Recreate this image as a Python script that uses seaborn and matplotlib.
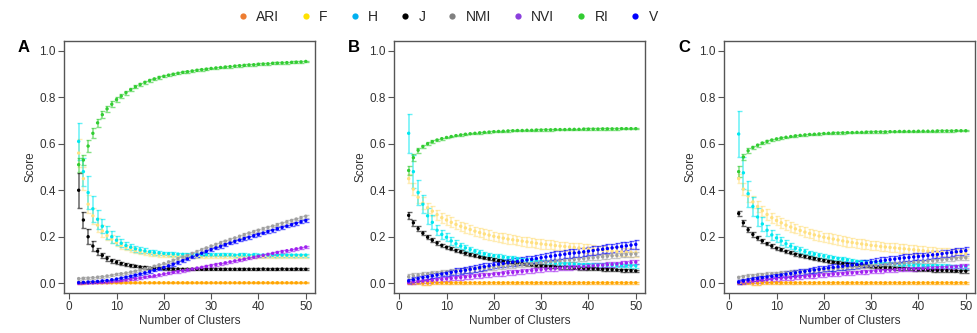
import numpy as np
import pandas as pd
import matplotlib
matplotlib.use("Agg")
import matplotlib.pyplot as plt
from matplotlib.lines import Line2D
import seaborn as sns

# ---------------- data ----------------
clusters = list(range(2, 51))
metrics = ["ARI", "F", "H", "J", "NMI", "NVI", "RI", "V"]
panel_labels = ["A", "B", "C"]

# ---- Panel A ----
A_ARI = [0.001,0.001,0.002,0.002,0.002,0.002,0.002,0.002,0.002,0.002,
         0.002,0.002,0.002,0.002,0.002,0.002,0.002,0.002,0.002,0.002,
         0.002,0.002,0.002,0.002,0.002,0.002,0.002,0.002,0.002,0.002,
         0.002,0.002,0.002,0.002,0.002,0.002,0.002,0.002,0.002,0.002,
         0.002,0.002,0.002,0.002,0.002,0.002,0.002,0.002,0.002]
A_ARI_err = [0.003,0.003,0.003,0.003,0.003,0.003,0.003,0.003,0.003,0.003,
             0.003,0.003,0.003,0.003,0.003,0.003,0.003,0.003,0.003,0.003,
             0.003,0.003,0.003,0.003,0.003,0.003,0.003,0.003,0.003,0.003,
             0.003,0.003,0.003,0.003,0.003,0.003,0.003,0.003,0.003,0.003,
             0.003,0.003,0.003,0.003,0.003,0.003,0.003,0.003,0.003]
A_F = [0.56,0.45,0.34,0.29,0.25,0.225,0.205,0.19,0.175,0.163,
       0.154,0.146,0.14,0.135,0.131,0.127,0.124,0.122,0.12,0.119,
       0.118,0.117,0.117,0.116,0.116,0.116,0.116,0.116,0.116,0.116,
       0.116,0.116,0.116,0.116,0.115,0.115,0.115,0.115,0.115,0.115,
       0.115,0.115,0.115,0.115,0.115,0.115,0.115,0.115,0.115]
A_F_err = [0.06,0.05,0.04,0.035,0.03,0.025,0.02,0.018,0.016,0.014,
           0.012,0.011,0.01,0.009,0.008,0.008,0.008,0.007,0.007,0.007,
           0.007,0.006,0.006,0.006,0.006,0.006,0.006,0.006,0.006,0.006,
           0.006,0.006,0.006,0.006,0.005,0.005,0.005,0.005,0.005,0.005,
           0.005,0.005,0.005,0.005,0.005,0.005,0.005,0.005,0.005]
A_H = [0.61,0.48,0.39,0.32,0.275,0.245,0.22,0.2,0.185,0.172,
       0.162,0.155,0.148,0.143,0.139,0.135,0.132,0.13,0.128,0.127,
       0.126,0.125,0.124,0.123,0.123,0.122,0.122,0.122,0.122,0.122,
       0.122,0.122,0.122,0.121,0.122,0.122,0.121,0.122,0.121,0.121,
       0.121,0.121,0.121,0.121,0.121,0.121,0.121,0.121,0.121]
A_H_err = [0.08,0.06,0.07,0.055,0.04,0.03,0.028,0.025,0.02,0.018,
           0.016,0.014,0.013,0.012,0.011,0.01,0.009,0.009,0.008,0.008,
           0.008,0.007,0.007,0.007,0.007,0.007,0.006,0.006,0.006,0.006,
           0.006,0.006,0.006,0.006,0.006,0.006,0.006,0.006,0.006,0.006,
           0.006,0.006,0.006,0.006,0.006,0.006,0.006,0.006,0.006]
A_J = [0.4,0.272,0.2,0.16,0.138,0.12,0.107,0.097,0.09,0.085,
       0.08,0.076,0.073,0.07,0.068,0.066,0.065,0.064,0.063,0.062,
       0.061,0.061,0.06,0.06,0.06,0.06,0.06,0.06,0.06,0.06,
       0.06,0.06,0.06,0.06,0.06,0.06,0.06,0.06,0.06,0.061,
       0.06,0.06,0.06,0.061,0.06,0.06,0.061,0.06,0.06]
A_J_err = [0.075,0.035,0.033,0.02,0.015,0.012,0.01,0.009,0.008,0.007,
           0.006,0.006,0.005,0.005,0.005,0.005,0.004,0.004,0.004,0.004,
           0.004,0.004,0.004,0.004,0.004,0.004,0.004,0.004,0.004,0.004,
           0.004,0.004,0.004,0.004,0.004,0.004,0.004,0.004,0.004,0.004,
           0.004,0.004,0.004,0.004,0.004,0.004,0.004,0.004,0.004]
A_NMI = [0.02,0.021,0.022,0.024,0.026,0.028,0.031,0.034,0.038,0.041,
         0.044,0.048,0.052,0.057,0.062,0.067,0.073,0.079,0.085,0.092,
         0.099,0.106,0.113,0.12,0.128,0.136,0.144,0.152,0.16,0.167,
         0.174,0.181,0.188,0.195,0.202,0.209,0.216,0.222,0.228,0.234,
         0.24,0.246,0.252,0.258,0.264,0.27,0.276,0.282,0.288]
A_NMI_err = [0.004,0.004,0.004,0.004,0.004,0.004,0.004,0.004,0.004,0.004,
             0.004,0.004,0.004,0.004,0.004,0.004,0.004,0.004,0.004,0.004,
             0.006,0.006,0.006,0.006,0.006,0.006,0.006,0.006,0.006,0.006,
             0.006,0.006,0.006,0.006,0.006,0.006,0.006,0.006,0.006,0.006,
             0.006,0.006,0.006,0.006,0.006,0.006,0.006,0.006,0.006]
A_NVI = [0.0,0.001,0.001,0.002,0.003,0.004,0.005,0.007,0.009,0.011,
         0.014,0.017,0.02,0.023,0.026,0.029,0.032,0.036,0.04,0.043,
         0.047,0.05,0.054,0.058,0.061,0.065,0.068,0.072,0.076,0.08,
         0.084,0.088,0.092,0.096,0.1,0.104,0.108,0.112,0.116,0.12,
         0.124,0.128,0.132,0.136,0.14,0.144,0.148,0.152,0.156]
A_NVI_err = [0.002,0.002,0.002,0.002,0.002,0.002,0.002,0.002,0.002,0.002,
             0.004,0.004,0.004,0.004,0.004,0.004,0.004,0.004,0.004,0.004,
             0.005,0.005,0.005,0.005,0.005,0.005,0.005,0.005,0.005,0.005,
             0.005,0.005,0.005,0.005,0.005,0.005,0.005,0.005,0.005,0.005,
             0.005,0.005,0.005,0.005,0.005,0.005,0.005,0.005,0.005]
A_RI = [0.51,0.53,0.59,0.645,0.69,0.725,0.75,0.77,0.79,0.805,
        0.82,0.833,0.845,0.855,0.864,0.872,0.879,0.885,0.89,0.895,
        0.899,0.903,0.907,0.91,0.913,0.916,0.919,0.921,0.924,0.926,
        0.928,0.93,0.932,0.934,0.936,0.937,0.939,0.94,0.942,0.943,
        0.944,0.946,0.947,0.948,0.949,0.95,0.951,0.952,0.954]
A_RI_err = [0.03,0.02,0.025,0.022,0.018,0.015,0.013,0.012,0.011,0.01,
            0.009,0.008,0.007,0.007,0.006,0.006,0.005,0.005,0.005,0.004,
            0.004,0.004,0.004,0.004,0.004,0.004,0.004,0.004,0.004,0.004,
            0.004,0.004,0.004,0.004,0.004,0.004,0.004,0.004,0.004,0.004,
            0.004,0.004,0.004,0.004,0.004,0.004,0.004,0.004,0.004]
A_V = [0.003,0.004,0.005,0.006,0.008,0.01,0.012,0.015,0.018,0.022,
       0.026,0.03,0.035,0.04,0.045,0.05,0.056,0.062,0.068,0.075,
       0.082,0.089,0.097,0.105,0.113,0.121,0.129,0.137,0.145,0.152,
       0.159,0.166,0.173,0.18,0.186,0.192,0.198,0.204,0.21,0.216,
       0.222,0.228,0.234,0.24,0.246,0.252,0.258,0.264,0.27]
A_V_err = [0.003,0.003,0.003,0.003,0.003,0.003,0.003,0.003,0.003,0.003,
           0.005,0.005,0.005,0.005,0.005,0.005,0.005,0.005,0.005,0.005,
           0.006,0.006,0.006,0.006,0.006,0.006,0.006,0.006,0.006,0.006,
           0.006,0.006,0.006,0.006,0.006,0.006,0.006,0.006,0.006,0.006,
           0.006,0.006,0.006,0.006,0.006,0.006,0.006,0.006,0.006]

# ---- Panel B ----
B_ARI = [0.001,0.001,0.002,0.001,0.001,0.002,0.002,0.002,0.002,0.002,
         0.002,0.002,0.002,0.002,0.002,0.002,0.002,0.002,0.002,0.002,
         0.002,0.002,0.002,0.002,0.002,0.002,0.002,0.002,0.002,0.002,
         0.002,0.002,0.002,0.002,0.002,0.002,0.002,0.002,0.002,0.002,
         0.002,0.002,0.002,0.002,0.002,0.002,0.002,0.002,0.002]
B_ARI_err = [0.004,0.005,0.006,0.007,0.008,0.006,0.005,0.005,0.004,0.004,
             0.004,0.004,0.004,0.004,0.004,0.004,0.004,0.004,0.004,0.004,
             0.004,0.004,0.004,0.004,0.004,0.004,0.004,0.004,0.004,0.004,
             0.004,0.004,0.004,0.004,0.004,0.004,0.004,0.004,0.004,0.004,
             0.004,0.004,0.004,0.004,0.004,0.004,0.004,0.004,0.004]
B_F = [0.45,0.405,0.37,0.345,0.325,0.31,0.295,0.282,0.272,0.262,
       0.253,0.245,0.238,0.231,0.224,0.218,0.212,0.207,0.202,0.198,
       0.194,0.19,0.187,0.184,0.181,0.178,0.175,0.172,0.169,0.167,
       0.165,0.162,0.16,0.158,0.156,0.154,0.152,0.15,0.148,0.146,
       0.144,0.142,0.14,0.138,0.137,0.135,0.134,0.132,0.131]
B_F_err = [0.02,0.025,0.025,0.025,0.022,0.022,0.022,0.022,0.021,0.021,
           0.02,0.02,0.02,0.02,0.02,0.02,0.02,0.02,0.02,0.02,
           0.02,0.02,0.02,0.02,0.02,0.02,0.02,0.02,0.02,0.02,
           0.019,0.019,0.019,0.019,0.019,0.019,0.019,0.019,0.019,0.019,
           0.018,0.018,0.018,0.018,0.018,0.018,0.018,0.018,0.018]
B_H = [0.645,0.48,0.39,0.34,0.29,0.262,0.228,0.21,0.198,0.182,
       0.17,0.16,0.152,0.145,0.138,0.131,0.126,0.121,0.118,0.115,
       0.112,0.11,0.108,0.105,0.102,0.099,0.096,0.094,0.092,0.09,
       0.088,0.086,0.085,0.084,0.083,0.082,0.081,0.08,0.08,0.079,
       0.079,0.078,0.078,0.077,0.077,0.076,0.076,0.075,0.075]
B_H_err = [0.085,0.07,0.052,0.04,0.035,0.03,0.022,0.02,0.018,0.016,
           0.014,0.013,0.012,0.011,0.01,0.01,0.01,0.01,0.009,0.009,
           0.008,0.008,0.008,0.008,0.008,0.008,0.008,0.008,0.008,0.008,
           0.008,0.008,0.008,0.008,0.008,0.008,0.008,0.008,0.008,0.008,
           0.008,0.008,0.008,0.008,0.008,0.008,0.008,0.008,0.008]
B_J = [0.292,0.26,0.235,0.215,0.198,0.185,0.173,0.163,0.155,0.148,
       0.141,0.135,0.129,0.123,0.118,0.113,0.109,0.105,0.101,0.097,
       0.094,0.091,0.088,0.086,0.083,0.081,0.079,0.077,0.075,0.073,
       0.072,0.07,0.069,0.068,0.067,0.066,0.065,0.064,0.063,0.062,
       0.061,0.06,0.059,0.058,0.057,0.056,0.055,0.054,0.053]
B_J_err = [0.015,0.012,0.01,0.009,0.008,0.008,0.007,0.007,0.007,0.006,
           0.006,0.006,0.006,0.006,0.006,0.006,0.006,0.006,0.006,0.006,
           0.006,0.006,0.006,0.006,0.006,0.006,0.006,0.006,0.006,0.006,
           0.006,0.006,0.006,0.006,0.006,0.006,0.006,0.006,0.006,0.006,
           0.006,0.006,0.006,0.006,0.006,0.006,0.006,0.006,0.006]
B_NMI = [0.028,0.032,0.035,0.038,0.04,0.042,0.044,0.046,0.048,0.05,
         0.052,0.054,0.056,0.058,0.06,0.062,0.064,0.066,0.068,0.07,
         0.072,0.074,0.076,0.078,0.08,0.082,0.084,0.086,0.088,0.09,
         0.092,0.094,0.096,0.098,0.1,0.102,0.104,0.106,0.108,0.11,
         0.112,0.114,0.116,0.118,0.12,0.122,0.124,0.125,0.126]
B_NMI_err = [0.01,0.01,0.01,0.01,0.01,0.01,0.01,0.01,0.01,0.01,
             0.01,0.01,0.01,0.01,0.01,0.01,0.01,0.01,0.01,0.01,
             0.01,0.01,0.01,0.01,0.01,0.01,0.01,0.01,0.01,0.01,
             0.01,0.01,0.01,0.01,0.01,0.01,0.01,0.01,0.01,0.01,
             0.01,0.01,0.01,0.01,0.01,0.01,0.01,0.01,0.01]
B_NVI = [0.003,0.005,0.007,0.009,0.011,0.013,0.015,0.017,0.019,0.021,
         0.023,0.025,0.027,0.029,0.031,0.033,0.035,0.037,0.039,0.041,
         0.043,0.045,0.047,0.049,0.051,0.053,0.055,0.057,0.059,0.061,
         0.062,0.064,0.065,0.067,0.068,0.07,0.071,0.072,0.074,0.075,
         0.077,0.078,0.08,0.081,0.083,0.085,0.087,0.089,0.091]
B_NVI_err = [0.008,0.008,0.008,0.008,0.008,0.008,0.008,0.008,0.008,0.008,
             0.009,0.009,0.009,0.009,0.009,0.009,0.009,0.009,0.009,0.009,
             0.01,0.01,0.01,0.01,0.01,0.01,0.01,0.01,0.01,0.01,
             0.01,0.01,0.01,0.01,0.01,0.01,0.01,0.01,0.01,0.01,
             0.01,0.01,0.01,0.01,0.01,0.01,0.01,0.01,0.01]
B_RI = [0.485,0.54,0.572,0.588,0.6,0.609,0.616,0.622,0.627,0.631,
        0.635,0.638,0.641,0.643,0.645,0.647,0.649,0.65,0.652,0.653,
        0.654,0.655,0.656,0.657,0.657,0.658,0.658,0.659,0.659,0.66,
        0.66,0.661,0.661,0.661,0.662,0.662,0.662,0.663,0.663,0.663,
        0.663,0.664,0.664,0.664,0.664,0.665,0.665,0.665,0.665]
B_RI_err = [0.02,0.015,0.01,0.008,0.006,0.005,0.005,0.004,0.004,0.004,
            0.003,0.003,0.003,0.003,0.003,0.003,0.003,0.003,0.003,0.003,
            0.003,0.003,0.003,0.003,0.003,0.003,0.003,0.003,0.003,0.003,
            0.003,0.003,0.003,0.003,0.003,0.003,0.003,0.003,0.003,0.003,
            0.003,0.003,0.003,0.003,0.003,0.003,0.003,0.003,0.003]
B_V = [0.01,0.015,0.02,0.025,0.028,0.032,0.036,0.04,0.043,0.047,
       0.05,0.053,0.056,0.06,0.063,0.067,0.071,0.075,0.079,0.082,
       0.085,0.088,0.091,0.094,0.097,0.1,0.103,0.106,0.11,0.113,
       0.116,0.119,0.122,0.125,0.128,0.13,0.132,0.135,0.138,0.141,
       0.144,0.146,0.149,0.152,0.155,0.158,0.161,0.164,0.167]
B_V_err = [0.01,0.01,0.01,0.01,0.01,0.01,0.01,0.01,0.01,0.01,
           0.014,0.014,0.014,0.014,0.014,0.014,0.014,0.014,0.014,0.014,
           0.016,0.016,0.016,0.016,0.016,0.016,0.016,0.016,0.016,0.016,
           0.018,0.018,0.018,0.018,0.018,0.018,0.018,0.018,0.018,0.018,
           0.018,0.018,0.018,0.018,0.018,0.018,0.018,0.018,0.018]

# ---- Panel C ----
C_ARI = [0.001,0.001,0.002,0.001,0.001,0.002,0.002,0.002,0.002,0.002,
         0.002,0.002,0.002,0.002,0.002,0.002,0.002,0.002,0.002,0.002,
         0.002,0.002,0.002,0.002,0.002,0.002,0.002,0.002,0.002,0.002,
         0.002,0.002,0.002,0.002,0.002,0.002,0.002,0.002,0.002,0.002,
         0.002,0.002,0.002,0.002,0.002,0.002,0.002,0.002,0.002]
C_ARI_err = [0.004,0.005,0.006,0.007,0.008,0.006,0.005,0.005,0.004,0.004,
             0.004,0.004,0.004,0.004,0.004,0.004,0.004,0.004,0.004,0.004,
             0.004,0.004,0.004,0.004,0.004,0.004,0.004,0.004,0.004,0.004,
             0.004,0.004,0.004,0.004,0.004,0.004,0.004,0.004,0.004,0.004,
             0.004,0.004,0.004,0.004,0.004,0.004,0.004,0.004,0.004]
C_F = [0.45,0.405,0.375,0.35,0.33,0.312,0.296,0.282,0.27,0.26,
       0.25,0.242,0.234,0.227,0.22,0.214,0.208,0.203,0.198,0.194,
       0.19,0.186,0.182,0.178,0.175,0.172,0.169,0.166,0.163,0.161,
       0.158,0.156,0.154,0.152,0.15,0.148,0.146,0.144,0.142,0.14,
       0.138,0.137,0.135,0.134,0.132,0.131,0.13,0.129,0.128]
C_F_err = [0.02,0.025,0.025,0.025,0.022,0.022,0.022,0.022,0.021,0.021,
           0.02,0.02,0.02,0.02,0.02,0.02,0.02,0.02,0.02,0.02,
           0.02,0.02,0.02,0.02,0.02,0.02,0.02,0.02,0.02,0.02,
           0.019,0.019,0.019,0.019,0.019,0.019,0.019,0.019,0.019,0.019,
           0.018,0.018,0.018,0.018,0.018,0.018,0.018,0.018,0.018]
C_H = [0.642,0.475,0.385,0.33,0.285,0.255,0.228,0.208,0.195,0.182,
       0.17,0.16,0.15,0.143,0.136,0.13,0.125,0.12,0.117,0.113,
       0.11,0.107,0.104,0.1,0.097,0.094,0.092,0.09,0.088,0.086,
       0.084,0.083,0.082,0.081,0.08,0.079,0.078,0.077,0.077,0.076,
       0.075,0.075,0.074,0.073,0.073,0.072,0.072,0.071,0.07]
C_H_err = [0.1,0.07,0.055,0.04,0.038,0.03,0.024,0.02,0.018,0.016,
           0.014,0.013,0.012,0.011,0.01,0.01,0.01,0.01,0.009,0.009,
           0.008,0.008,0.008,0.008,0.008,0.008,0.008,0.008,0.008,0.008,
           0.008,0.008,0.008,0.008,0.008,0.008,0.008,0.008,0.008,0.008,
           0.008,0.008,0.008,0.008,0.008,0.008,0.008,0.008,0.008]
C_J = [0.3,0.26,0.23,0.21,0.195,0.182,0.17,0.16,0.151,0.144,
       0.137,0.131,0.125,0.12,0.115,0.11,0.106,0.102,0.098,0.094,
       0.091,0.088,0.085,0.082,0.08,0.078,0.076,0.074,0.072,0.07,
       0.069,0.067,0.066,0.064,0.063,0.062,0.061,0.06,0.059,0.058,
       0.057,0.056,0.055,0.055,0.054,0.053,0.053,0.052,0.052]
C_J_err = [0.012,0.012,0.01,0.009,0.008,0.008,0.007,0.007,0.007,0.006,
           0.006,0.006,0.006,0.006,0.006,0.006,0.006,0.006,0.006,0.006,
           0.006,0.006,0.006,0.006,0.006,0.006,0.006,0.006,0.006,0.006,
           0.006,0.006,0.006,0.006,0.006,0.006,0.006,0.006,0.006,0.006,
           0.006,0.006,0.006,0.006,0.006,0.006,0.006,0.006,0.006]
C_NMI = [0.025,0.028,0.031,0.033,0.035,0.037,0.039,0.04,0.042,0.044,
         0.045,0.047,0.048,0.05,0.052,0.053,0.055,0.057,0.058,0.06,
         0.062,0.063,0.065,0.067,0.068,0.07,0.072,0.073,0.075,0.077,
         0.078,0.08,0.082,0.083,0.085,0.087,0.088,0.09,0.092,0.094,
         0.096,0.097,0.099,0.101,0.103,0.105,0.107,0.108,0.11]
C_NMI_err = [0.008,0.008,0.008,0.008,0.008,0.008,0.008,0.008,0.008,0.008,
             0.008,0.008,0.008,0.008,0.008,0.008,0.008,0.008,0.008,0.008,
             0.008,0.008,0.008,0.008,0.008,0.008,0.008,0.008,0.008,0.008,
             0.008,0.008,0.008,0.008,0.008,0.008,0.008,0.008,0.008,0.008,
             0.008,0.008,0.008,0.008,0.008,0.008,0.008,0.008,0.008]
C_NVI = [0.003,0.005,0.007,0.009,0.011,0.013,0.015,0.017,0.019,0.021,
         0.022,0.024,0.026,0.027,0.029,0.031,0.032,0.034,0.036,0.037,
         0.039,0.04,0.042,0.043,0.045,0.046,0.048,0.049,0.051,0.052,
         0.054,0.055,0.056,0.058,0.059,0.06,0.061,0.062,0.063,0.064,
         0.065,0.066,0.067,0.068,0.069,0.07,0.072,0.073,0.075]
C_NVI_err = [0.008,0.008,0.008,0.008,0.008,0.008,0.008,0.008,0.008,0.008,
             0.008,0.008,0.008,0.008,0.008,0.008,0.008,0.008,0.008,0.008,
             0.008,0.008,0.008,0.008,0.008,0.008,0.008,0.008,0.008,0.008,
             0.008,0.008,0.008,0.008,0.008,0.008,0.008,0.008,0.008,0.008,
             0.008,0.008,0.008,0.008,0.008,0.008,0.008,0.008,0.008]
C_RI = [0.48,0.543,0.57,0.584,0.594,0.603,0.61,0.616,0.621,0.625,
        0.628,0.631,0.634,0.636,0.638,0.64,0.641,0.642,0.644,0.645,
        0.646,0.646,0.647,0.648,0.648,0.649,0.649,0.65,0.65,0.651,
        0.651,0.651,0.652,0.652,0.653,0.653,0.653,0.653,0.654,0.654,
        0.654,0.654,0.655,0.655,0.655,0.655,0.656,0.656,0.656]
C_RI_err = [0.025,0.012,0.01,0.008,0.006,0.005,0.005,0.004,0.004,0.004,
            0.003,0.003,0.003,0.003,0.003,0.003,0.003,0.003,0.003,0.003,
            0.003,0.003,0.003,0.003,0.003,0.003,0.003,0.003,0.003,0.003,
            0.003,0.003,0.003,0.003,0.003,0.003,0.003,0.003,0.003,0.003,
            0.003,0.003,0.003,0.003,0.003,0.003,0.003,0.003,0.003]
C_V = [0.005,0.01,0.014,0.018,0.021,0.024,0.027,0.03,0.033,0.036,
       0.039,0.042,0.045,0.048,0.051,0.054,0.057,0.06,0.063,0.066,
       0.068,0.071,0.073,0.076,0.078,0.081,0.084,0.087,0.09,0.093,
       0.096,0.099,0.102,0.104,0.107,0.109,0.111,0.113,0.115,0.117,
       0.119,0.122,0.124,0.127,0.13,0.132,0.135,0.137,0.14]
C_V_err = [0.008,0.008,0.008,0.008,0.008,0.008,0.008,0.008,0.008,0.008,
           0.012,0.012,0.012,0.012,0.012,0.012,0.012,0.012,0.012,0.012,
           0.015,0.015,0.015,0.015,0.015,0.015,0.015,0.015,0.015,0.015,
           0.015,0.015,0.015,0.015,0.015,0.015,0.015,0.015,0.015,0.015,
           0.015,0.015,0.015,0.015,0.015,0.015,0.015,0.015,0.015]

# ---------------- style ----------------
point_colors = {"ARI": "#FFA500", "F": "#FFE080", "H": "#00E8F0", "J": "#000000",
                "NMI": "#A0A0A0", "NVI": "#A020F0", "RI": "#32CD32", "V": "#0000FF"}
legend_colors = {"ARI": "#ED7D31", "F": "#FFE100", "H": "#00B0F0", "J": "#000000",
                 "NMI": "#808080", "NVI": "#8B3FDD", "RI": "#33CC33", "V": "#0000FF"}

sns.set_style("ticks")
plt.rcParams["font.family"] = ["Liberation Sans", "DejaVu Sans"]

g = globals()
rows = []
for p in panel_labels:
    for m in metrics:
        for xv, yv, ev in zip(clusters, g[f"{p}_{m}"], g[f"{p}_{m}_err"]):
            rows.append((p, m, xv, yv, ev))
df = pd.DataFrame(rows, columns=["panel", "metric", "clusters", "score", "err"])

fig = plt.figure(figsize=(9.77, 3.33), dpi=100)
W, H = 977, 333
ax_left_px = [64, 394, 724]
ax_w_px = 251
ax_top_px, ax_bot_px = 41, 293
tick_col = "#333333"

for p, lpx in zip(panel_labels, ax_left_px):
    ax = fig.add_axes([lpx / W, 1 - ax_bot_px / H, ax_w_px / W, (ax_bot_px - ax_top_px) / H])
    sub = df[df.panel == p]
    for m in metrics:
        d = sub[sub.metric == m]
        c = point_colors[m]
        ax.errorbar(d["clusters"], d["score"], yerr=d["err"], fmt="none",
                    ecolor=c, alpha=0.6, elinewidth=1.1, capsize=1.8, capthick=1.0, zorder=2)
        sns.scatterplot(data=d, x="clusters", y="score", color=c, s=6,
                        edgecolor="none", linewidth=0, ax=ax, zorder=3, legend=False)
    ax.set_xlim(-1.1, 51.95)
    ax.set_ylim(-0.042, 1.042)
    ax.set_xticks([0, 10, 20, 30, 40, 50])
    ax.set_yticks([0.0, 0.2, 0.4, 0.6, 0.8, 1.0])
    ax.set_yticklabels(["0.0", "0.2", "0.4", "0.6", "0.8", "1.0"])
    ax.tick_params(axis="both", labelsize=8.5, colors="#555555", labelcolor=tick_col,
                   length=4, width=0.8, pad=2)
    for s in ax.spines.values():
        s.set_visible(True)
        s.set_color("#555555")
        s.set_linewidth(1.0)
    ax.set_xlabel("Number of Clusters", fontsize=8.5, color=tick_col, labelpad=1)
    ax.set_ylabel("Score", fontsize=8.5, color=tick_col, labelpad=2)
    fig.text((lpx - 46) / W, 1 - 47 / H, p, fontsize=12, fontweight="bold",
             ha="left", va="center", color="black")

handles = [Line2D([0], [0], marker="o", linestyle="none", markersize=4.5,
                  markerfacecolor=legend_colors[m], markeredgecolor="none", label=m)
           for m in metrics]
fig.legend(handles=handles, loc="center", bbox_to_anchor=(447.5 / W, 1 - 17 / H),
           ncol=8, frameon=False, fontsize=10, handlelength=0.8, handletextpad=0.55,
           columnspacing=1.55, borderpad=0.2)

fig.savefig("out.png", dpi=100)
